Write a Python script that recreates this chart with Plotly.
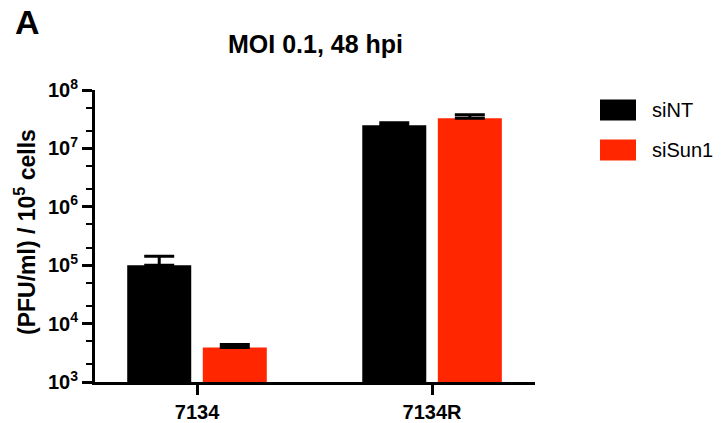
import plotly.graph_objects as go

categories = ["7134", "7134R"]
series_names = ["siNT", "siSun1"]
series_colors = ["#000000", "#FF2600"]
siNT_values = [1.0e5, 2.5e7]
siNT_err = [0.43e5, 0.25e7]
siSun1_values = [3.9e3, 3.28e7]
siSun1_err = [0.47e3, 0.5e7]
ytick_vals = [1e3, 1e4, 1e5, 1e6, 1e7, 1e8]
ytick_text = ["10<sup>3</sup>", "10<sup>4</sup>", "10<sup>5</sup>",
              "10<sup>6</sup>", "10<sup>7</sup>", "10<sup>8</sup>"]

FONT = "Arial, Liberation Sans, sans-serif"

# plot area in pixels
L, R, T, B = 95, 535, 90, 382
W, H = 727, 423
def px(x):
    return (x - L) / (R - L)
def py(y):
    return (B - y) / (B - T)

fig = go.Figure()
for name, vals, errs, col in [(series_names[0], siNT_values, siNT_err, series_colors[0]),
                              (series_names[1], siSun1_values, siSun1_err, series_colors[1])]:
    fig.add_trace(go.Bar(
        x=categories, y=vals, name=name,
        marker=dict(color=col, line=dict(width=0)),
        error_y=dict(type="data", symmetric=False, array=errs, arrayminus=[0, 0],
                     color="black", thickness=3, width=15),
        showlegend=False,
    ))

fig.update_layout(
    width=W, height=H,
    margin=dict(l=L, r=W - R, t=T, b=H - B, pad=0, autoexpand=False),
    plot_bgcolor="white", paper_bgcolor="white",
    barmode="group", bargap=0.357, bargroupgap=0.153,
    font=dict(family=FONT, color="black"),
)

fig.update_xaxes(
    type="category", range=[-0.434, 1.438], automargin=False,
    showline=True, linewidth=3, linecolor="black",
    ticks="outside", ticklen=10, tickwidth=3, tickcolor="black",
    tickfont=dict(size=20, weight="bold", family=FONT),
    showgrid=False, zeroline=False,
)
fig.update_yaxes(
    type="log", range=[3, 8], automargin=False,
    showline=True, linewidth=3, linecolor="black",
    ticks="outside", ticklen=10, tickwidth=3, tickcolor="black",
    tickvals=ytick_vals, ticktext=ytick_text,
    tickfont=dict(size=20, weight="bold", family=FONT),
    minor=dict(ticks="outside", ticklen=6, tickwidth=2, tickcolor="black", showgrid=False),
    showgrid=False, zeroline=False,
)

annotations = [
    dict(text="<b>MOI 0.1, 48 hpi</b>", x=px(315), y=py(44), xref="paper", yref="paper",
         showarrow=False, xanchor="center", yanchor="middle", font=dict(size=25, family=FONT)),
    dict(text="<b>A</b>", x=px(27), y=py(22), xref="paper", yref="paper",
         showarrow=False, xanchor="center", yanchor="middle", font=dict(size=34, family=FONT)),
    dict(text="<b>(PFU/ml) / 10<sup>5</sup> cells</b>", x=px(25), y=py(232), xref="paper", yref="paper",
         showarrow=False, xanchor="center", yanchor="middle", textangle=-90,
         font=dict(size=23, family=FONT)),
]
shapes = []
legend_rows_y = [110, 150]
for name, col, cy in zip(series_names, series_colors, legend_rows_y):
    shapes.append(dict(type="rect", xref="paper", yref="paper",
                       x0=px(600), x1=px(636), y0=py(cy + 10.5), y1=py(cy - 10.5),
                       fillcolor=col, line=dict(width=0)))
    annotations.append(dict(text=name, x=px(650), y=py(cy), xref="paper", yref="paper",
                            showarrow=False, xanchor="left", yanchor="middle",
                            font=dict(size=20, family=FONT)))
fig.update_layout(annotations=annotations, shapes=shapes)

fig.write_html("out.html", config={"displayModeBar": False},
               post_script="document.body.style.margin='0';")
